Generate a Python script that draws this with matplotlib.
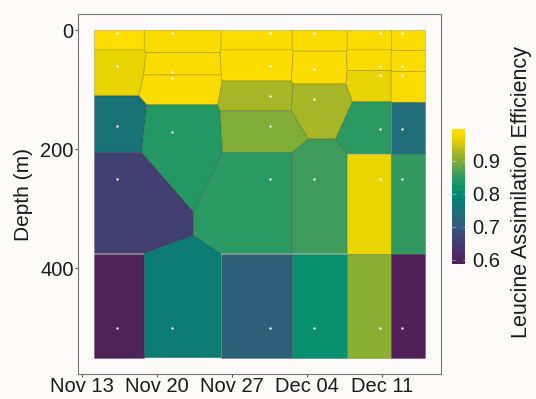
import matplotlib

matplotlib.use("Agg")
import matplotlib.dates as mdates
import matplotlib.pyplot as plt
import numpy as np
from matplotlib.collections import PolyCollection
from matplotlib.colors import LinearSegmentedColormap

plt.rcParams["font.family"] = ["Liberation Sans", "DejaVu Sans"]

# sampling stations (cast time) and the depths sampled at each one
station_dates = [
    "2019-11-16 06:00",
    "2019-11-21 09:00",
    "2019-11-30 14:00",
    "2019-12-04 16:00",
    "2019-12-10 20:00",
    "2019-12-12 21:00",
]
station_depths = [
    [5, 60, 160, 250, 500],
    [5, 70, 80, 170, 500],
    [5, 60, 110, 160, 250, 500],
    [5, 65, 115, 250, 500],
    [5, 60, 75, 165, 250, 500],
    [5, 60, 75, 165, 250, 500],
]
station_efficiency = [
    [0.996, 0.965, 0.755, 0.655, 0.590],
    [0.990, 0.990, 0.990, 0.840, 0.775],
    [0.990, 0.990, 0.925, 0.900, 0.845, 0.710],
    [0.990, 0.990, 0.925, 0.860, 0.810],
    [0.990, 0.990, 0.965, 0.845, 0.970, 0.905],
    [0.990, 0.990, 0.990, 0.740, 0.850, 0.588],
]

# tessellation window
bound_dates = ("2019-11-14 04:00", "2019-12-14 23:30")
bound_depth = (0, 550)

CMAP_STOPS = [
    (0.00, "#4f2158"),
    (0.08, "#4a2f68"),
    (0.16, "#433f70"),
    (0.27, "#33597a"),
    (0.37, "#226d78"),
    (0.45, "#0f7a74"),
    (0.52, "#008c72"),
    (0.60, "#1a9766"),
    (0.66, "#3a9a5e"),
    (0.77, "#84ae36"),
    (0.83, "#a9b625"),
    (0.92, "#e6d300"),
    (1.00, "#ffdd00"),
]
BACKGROUND = "#fdfbfa"
TEXT = "#1a1a1a"


def clip_halfplane(poly, normal, offset):
    # keep the part of poly with p . normal <= offset
    kept = []
    for k in range(len(poly)):
        a = poly[k]
        b = poly[(k + 1) % len(poly)]
        da = a @ normal - offset
        db = b @ normal - offset
        if da <= 0:
            kept.append(a)
        if da * db < 0:
            kept.append(a + da / (da - db) * (b - a))
    return np.array(kept)


def voronoi_cells(points, width, height):
    rect = np.array([[0, 0], [width, 0], [width, height], [0, height]], dtype=float)
    cells = []
    for i, p in enumerate(points):
        poly = rect
        for j, q in enumerate(points):
            if i == j:
                continue
            normal = q - p
            poly = clip_halfplane(poly, normal, normal @ (p + q) / 2)
        cells.append(poly)
    return cells


xs, ys, vals = [], [], []
for date, depths, effs in zip(station_dates, station_depths, station_efficiency):
    t = mdates.datestr2num(date)
    for d, v in zip(depths, effs):
        xs.append(t)
        ys.append(d)
        vals.append(v)
xs, ys, vals = np.array(xs), np.array(ys), np.array(vals)

bx0, bx1 = (mdates.datestr2num(s) for s in bound_dates)
by0, by1 = bound_depth
aspect = 331 / 333

# tessellate in panel-relative units so cells look like a screen-space voronoi
pts = np.column_stack([(xs - bx0) / (bx1 - bx0), (ys - by0) / (by1 - by0) * aspect])
cells = voronoi_cells(pts, 1.0, aspect)
polys = [
    np.column_stack([bx0 + c[:, 0] * (bx1 - bx0), by0 + c[:, 1] / aspect * (by1 - by0)])
    for c in cells
]

cmap = LinearSegmentedColormap.from_list("efficiency", CMAP_STOPS)

fig = plt.figure(figsize=(5.36, 3.99), dpi=100, facecolor=BACKGROUND)
ax = fig.add_axes([0.1455, 0.0626, 0.6773, 0.9023])
ax.set_facecolor(BACKGROUND)

tiles = PolyCollection(polys, array=vals, cmap=cmap, edgecolors=(0, 0, 0, 0.2), linewidths=0.6)
tiles.set_clim(vals.min(), vals.max())
ax.add_collection(tiles)
ax.plot(xs, ys, "o", ms=1.7, color="white", mec="none")

dx, dy = bx1 - bx0, by1 - by0
ax.set_xlim(bx0 - 0.05 * dx, bx1 + 0.05 * dx)
ax.set_ylim(by1 + 0.05 * dy, by0 - 0.05 * dy)

ax.xaxis.set_major_locator(mdates.WeekdayLocator(byweekday=mdates.WE))
ax.xaxis.set_major_formatter(mdates.DateFormatter("%b %d"))
ax.set_yticks([0, 200, 400])
ax.tick_params(labelsize=14.5, length=2, width=0.8, color="#555555", labelcolor=TEXT)
ax.tick_params(axis="x", pad=0)
ax.tick_params(axis="y", pad=1)
for spine in ax.spines.values():
    spine.set_color("#777777")
    spine.set_linewidth(0.8)
ax.set_ylabel("Depth (m)", fontsize=15, color=TEXT, labelpad=5)

cax = fig.add_axes([0.8433, 0.339, 0.0248, 0.338])
cbar = fig.colorbar(tiles, cax=cax)
cbar.outline.set_visible(False)
cbar.set_ticks([0.6, 0.7, 0.8, 0.9])
cax.tick_params(labelsize=14.5, length=0, pad=5, labelcolor=TEXT)
for tick in [0.6, 0.7, 0.8, 0.9]:
    cax.axhline(tick, xmin=0, xmax=0.2, color="white", lw=0.5, alpha=0.6)
    cax.axhline(tick, xmin=0.8, xmax=1, color="white", lw=0.5, alpha=0.6)
fig.text(522 / 536, 0.5175, "Leucine Assimilation Efficiency", rotation=90,
         ha="center", va="center", fontsize=15.5, color=TEXT)

fig.savefig("out.png", dpi=100, facecolor=BACKGROUND)
